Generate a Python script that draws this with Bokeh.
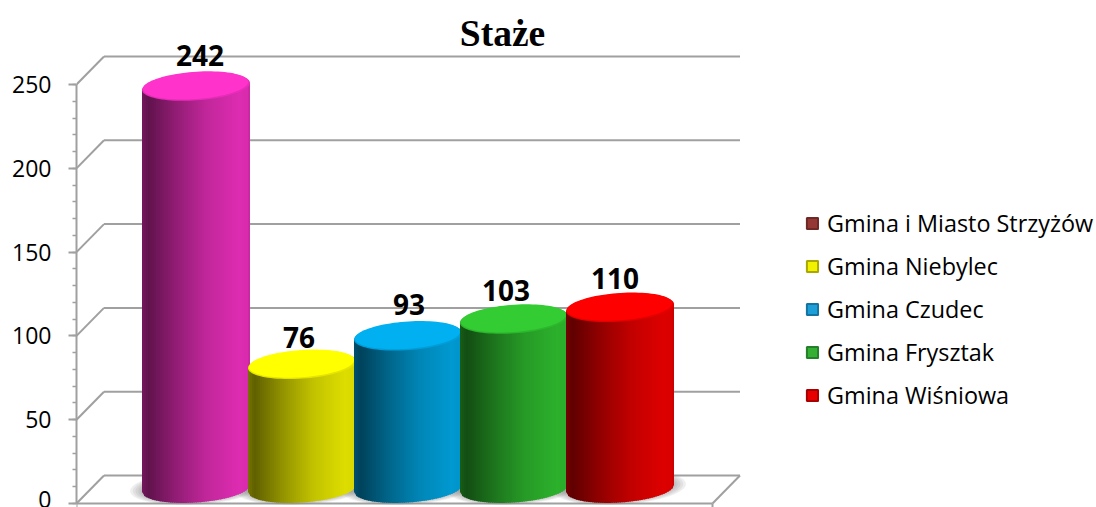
import numpy as np
from bokeh.embed import file_html
from bokeh.models import Label, Legend, LegendItem, LinearAxis, Range1d, SingleIntervalTicker
from bokeh.plotting import figure
from bokeh.resources import INLINE

# ---- data
TITLE = "Staże"
SERIES = ["Gmina i Miasto Strzyżów", "Gmina Niebylec", "Gmina Czudec", "Gmina Frysztak", "Gmina Wiśniowa"]
VALUES = [242, 76, 93, 103, 110]
Y_TICKS = [0, 50, 100, 150, 200, 250]

# ---- styles
BAR_RGB = [(255, 51, 204), (255, 255, 0), (0, 176, 240), (51, 204, 51), (255, 0, 0)]
LEGEND_FILL = ["#953735", "#f2f200", "#1c9ed8", "#35b035", "#e80000"]
LEGEND_LINE = ["#6e2826", "#a8a800", "#14749f", "#24802a", "#a80000"]
LABEL_DX = [4, -3, 1, -8, -5]
LABEL_DY = [31, 27, 32, 29, 29]
GRID = "#a0a0a0"

# ---- layout constants (pixels of the page)
PX_X, PX_Y = 106.0, 1.676
LEFT, W, H, AXIS_Y = 76, 1096, 507, 503
FRAME_W = W - LEFT
X0, X1 = -1, 5
DEPTH_X, DEPTH_Y = 27.5 / PX_X, 28 / PX_Y
CYL_DX = 13.5 / PX_X
A, B, TILT = 54 / PX_X, 14 / PX_Y, 3.5 / PX_Y
TOP_BASE, FOOT = 11.5 / PX_Y, 15 / PX_Y
TICK = 4 / PX_Y

p = figure(width=W, height=H, output_backend="svg", toolbar_location=None,
           x_range=Range1d(X0, X0 + FRAME_W / PX_X),
           y_range=Range1d(-(H - AXIS_Y) / PX_Y, AXIS_Y / PX_Y),
           x_axis_type=None, y_axis_type=None, min_border_left=LEFT, min_border_right=0,
           min_border_top=0, min_border_bottom=0, outline_line_color=None)
p.grid.visible = False

# chart title, placed over the plot area at the reference's position
p.add_layout(Label(x=X0 + (502 - LEFT) / PX_X, y=(AXIS_Y - 33) / PX_Y, text=TITLE, text_align="center",
                   text_baseline="middle", text_font="Liberation Serif", text_font_size="37.5px",
                   text_font_style="bold", text_color="#000000"))

# value axis
yax = LinearAxis(ticker=SingleIntervalTicker(interval=50, num_minor_ticks=5), bounds=(0, 250),
                 axis_line_color=GRID, axis_line_width=2, major_tick_line_color=GRID, major_tick_line_width=2,
                 minor_tick_line_color=GRID, minor_tick_line_width=1.5, major_tick_out=8, major_tick_in=0,
                 minor_tick_out=4, minor_tick_in=0, major_label_text_font="Open Sans",
                 major_label_text_font_size="23px", major_label_text_color="#000000", major_label_standoff=17)
p.add_layout(yax, "left")

# back wall, side wall and floor lines
ticks = np.array(Y_TICKS, dtype=float)
p.segment(X0 + DEPTH_X, ticks + DEPTH_Y, X1 + DEPTH_X, ticks + DEPTH_Y, line_color=GRID, line_width=2)
p.segment(X0, ticks, X0 + DEPTH_X, ticks + DEPTH_Y, line_color=GRID, line_width=2)
p.segment([X1], [0], [X1 + DEPTH_X], [DEPTH_Y], line_color=GRID, line_width=2)
p.segment([X0], [0], [X1], [0], line_color=GRID, line_width=2)
p.segment([X0, X1], [0, 0], [X0, X1], [-TICK, -TICK], line_color=GRID, line_width=2)


def hexc(rgb, f):
    return "#%02x%02x%02x" % tuple(int(min(255, max(0, c * f))) for c in rgb)


def ellipse_pts(cx, cy, scale=1.0):
    t = np.linspace(0, 2 * np.pi, 90)
    return cx + A * scale * np.cos(t), cy + B * scale * np.sin(t) + TILT * np.cos(t)


# floor shadows
for s in (1.22, 1.17, 1.12, 1.07, 1.03):
    xs, ys = [], []
    for i in range(len(VALUES)):
        ex, ey = ellipse_pts(i + CYL_DX, FOOT + 0.6, s)
        xs.append(ex.tolist())
        ys.append(ey.tolist())
    p.patches(xs, ys, fill_color="#808080", fill_alpha=0.13, line_color=None)

# cylinders: strips for the shading, then the cap
STOPS_U = [-1.0, -0.88, -0.35, 0.2, 0.8, 0.97, 1.0]
STOPS_F = [0.46, 0.38, 0.58, 0.76, 0.87, 0.85, 0.72]
N = 54
us = np.linspace(-1, 1, N + 1)
for i, (v, rgb) in enumerate(zip(VALUES, BAR_RGB)):
    cx = i + CYL_DX
    top = TOP_BASE + v
    xs, ys, cols = [], [], []
    for k in range(N):
        u0, u1 = us[k], min(1, us[k + 1] + 0.015)
        lo0 = FOOT - B * np.sqrt(1 - u0 * u0) + TILT * u0
        lo1 = FOOT - B * np.sqrt(1 - u1 * u1) + TILT * u1
        xs.append([cx + A * u0, cx + A * u1, cx + A * u1, cx + A * u0])
        ys.append([lo0, lo1, top + TILT * u1, top + TILT * u0])
        cols.append(hexc(rgb, np.interp((u0 + us[k + 1]) / 2, STOPS_U, STOPS_F)))
    p.patches(xs, ys, fill_color=cols, line_color=None)
    ex, ey = ellipse_pts(cx, top)
    p.patch(ex, ey, fill_color=hexc(rgb, 0.9), line_color=None)
    ex, ey = ellipse_pts(cx - 0.004, top + 0.6, 0.975)
    p.patch(ex, ey, fill_color=hexc(rgb, 1.0), line_color=None)

# value labels
for i, v in enumerate(VALUES):
    p.add_layout(Label(x=i + CYL_DX, y=TOP_BASE + v, text=str(v), x_offset=LABEL_DX[i], y_offset=LABEL_DY[i],
                       text_align="center", text_baseline="middle", text_font="Open Sans",
                       text_font_style="bold", text_font_size="28px", text_color="#000000"))

# legend
items = []
nan = float("nan")
for name, fc, lc in zip(SERIES, LEGEND_FILL, LEGEND_LINE):
    r = p.quad(left=[nan], right=[nan], bottom=[nan], top=[nan], fill_color=fc, line_color=lc, line_width=2)
    items.append(LegendItem(label=name, renderers=[r]))
legend = Legend(items=items, location=(805 - LEFT, H - 411), orientation="vertical", padding=0, margin=0,
                spacing=11, glyph_width=14, glyph_height=14, label_height=24, label_standoff=8,
                label_text_font="Open Sans", label_text_font_size="23.4px", label_text_color="#000000",
                background_fill_color=None, border_line_color=None)
p.add_layout(legend, "center")

open("out.html", "w").write(file_html(p, INLINE))
